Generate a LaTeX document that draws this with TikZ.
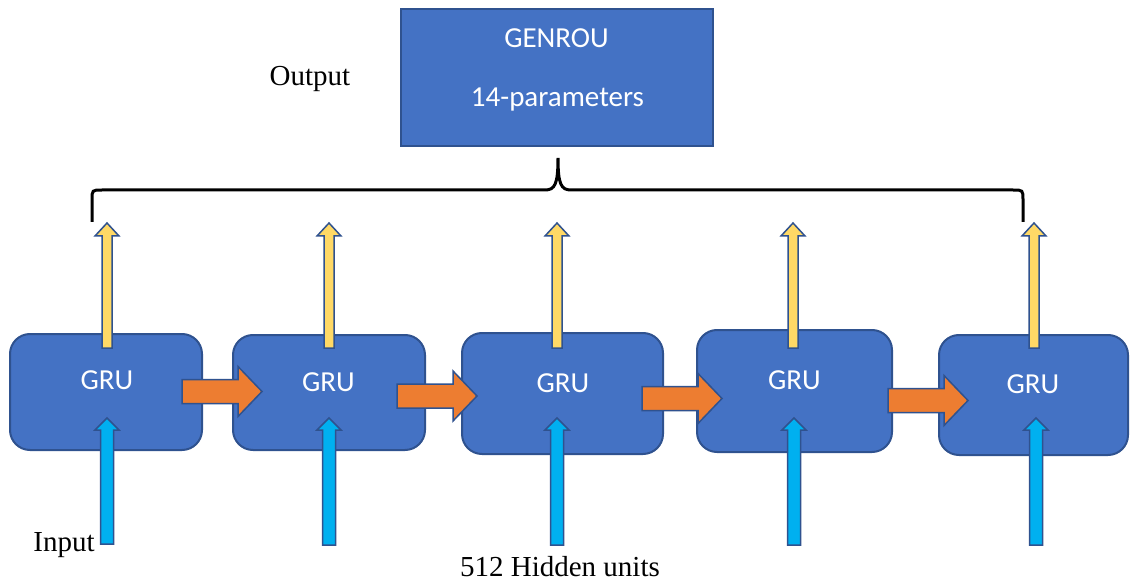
\documentclass[tikz,border=0pt]{standalone}
\usepackage{fontspec}
\setmainfont{Liberation Serif}
\newfontfamily\calibrifont{Carlito}
\usetikzlibrary{calc}

\definecolor{grublue}{HTML}{4472C4}
\definecolor{gruline}{HTML}{2F528F}
\definecolor{outyellow}{HTML}{FFD966}
\definecolor{incyan}{HTML}{00B0F0}
\definecolor{hidorange}{HTML}{ED7D31}

% block arrow: #1 fill, #2 tail, #3 tip, #4 stem half, #5 head half, #6 head length
\newcommand{\blockarrow}[6]{%
    \coordinate (hb) at ($(#3)!#6!(#2)$);
    \draw[blockline, fill=#1] ($(#2)!#4!90:(#3)$) -- ($(hb)!#4!90:(#3)$)
    -- ($(hb)!#5!90:(#3)$) -- (#3) -- ($(hb)!#5!-90:(#3)$)
    -- ($(hb)!#4!-90:(#3)$) -- ($(#2)!#4!-90:(#3)$) -- cycle;
}

\begin{document}
\begin{tikzpicture}[x=0.5pt, y=-0.5pt]
    \tikzstyle{grubox}=[rectangle, rounded corners=10pt, fill=grublue,
            draw=gruline, line width=1pt, inner sep=0pt]
    \tikzstyle{topbox}=[rectangle, fill=grublue, draw=gruline,
            line width=1pt, inner sep=0pt]
    \tikzstyle{blockline}=[draw=gruline, line width=0.75pt]
    \tikzstyle{sanslabel}=[font=\calibrifont\fontsize{14.5}{17}\selectfont,
            text=white, anchor=base, inner sep=0pt]
    \tikzstyle{seriflabel}=[font=\fontsize{14.5}{17}\selectfont,
            anchor=base, inner sep=0pt]
    \tikzstyle{bracket}=[line width=1.5pt]

        \useasboundingbox (0,0) rectangle (1131,583);

        \foreach \i/\cx/\cy/\w/\h in {1/106/392/96/58, 2/329/392.5/96/57.5,
            3/562.5/393.5/100.5/60.5, 4/794.5/391/97.5/61, 5/1033.5/395/94.5/60}
        {
            \node[grubox, minimum width=\w pt, minimum height=\h pt]
            (gru\i) at (\cx,\cy) {};
        }

        \foreach \i/\gx/\gy in {1/107/389, 2/328.5/391, 3/563/392,
            4/794.5/389, 5/1033/393}
        {
            \node[sanslabel] (grul\i) at (\gx,\gy) {GRU};
        }

        \node[topbox, minimum width=156pt, minimum height=68.5pt]
        (genrou) at (557,77.5) {};
        \node[sanslabel] (model) at (556.5,48) {GENROU};
        \node[sanslabel] (params) at (557.5,107) {14-parameters};

        % outputs
        \foreach \i/\x in {1/107, 2/329, 3/557, 4/793, 5/1034}
        {
            \coordinate (yb\i) at (\x,348);
            \coordinate (yt\i) at (\x,223);
            \blockarrow{outyellow}{yb\i}{yt\i}{2.5pt}{6pt}{6.5pt}
        }

        % inputs
        \foreach \i/\x/\b in {1/107/544, 2/329/545, 3/557/545, 4/794/545,
            5/1036/545}
        {
            \coordinate (ib\i) at (\x,\b);
            \coordinate (it\i) at (\x,418);
            \blockarrow{incyan}{ib\i}{it\i}{3.25pt}{6pt}{6pt}
        }

        % hidden state
        \foreach \i/\a/\b/\y in {1/182/262/391.5, 2/397/477/396,
            3/642/722/398.5, 4/888/968/400.5}
        {
            \coordinate (hs\i) at (\a,\y);
            \coordinate (he\i) at (\b,\y);
            \blockarrow{hidorange}{hs\i}{he\i}{6pt}{12.5pt}{12pt}
        }

        \draw[bracket] (92,222) -- (92,200) .. controls (92,190) .. (102,190)
        -- (545,190) .. controls (555,190) and (558,184) .. (558,158)
        .. controls (558,184) and (561,190) .. (571,190)
        -- (1013,190) .. controls (1023,190) .. (1023,200) -- (1023,222);

        \node[seriflabel] (outlbl) at (310,86) {Output};
        \node[seriflabel] (inlbl) at (64,551) {Input};
        \node[seriflabel] (hidlbl) at (560,576) {512 Hidden units};

\end{tikzpicture}
\end{document}
